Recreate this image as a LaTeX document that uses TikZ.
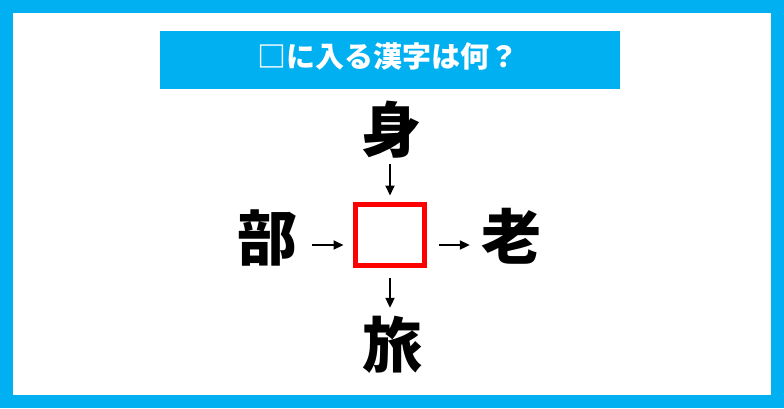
\documentclass[tikz,border=0pt]{standalone}
\usepackage{fontspec}
\newfontfamily\jp{Noto Sans CJK JP}
\usetikzlibrary{arrows.meta}
\definecolor{bannerblue}{HTML}{00B0F0}
\definecolor{boxred}{HTML}{FF0000}
\tikzset{
  kanji/.style={font=\jp\bfseries\fontsize{60}{60}\selectfont, inner sep=0pt, minimum width=60pt, minimum height=60pt},
  arr/.style={line width=2pt, -{Triangle[length=10pt,width=9pt]}},
  blank/.style={draw=boxred, line width=5pt, minimum width=69pt, minimum height=60.5pt, inner sep=0pt}
}
\begin{document}
\begin{tikzpicture}[x=1pt,y=-1pt]
\useasboundingbox (0,0) rectangle (784,408);
\fill[bannerblue] (0,0) rectangle (784,408);
\fill[white] (13,13) rectangle (771,395);
\fill[bannerblue] (160,31) rectangle (620,89);
\node[text=white, font=\jp\bfseries\fontsize{29}{29}\selectfont, inner sep=0pt] (title) at (388,56) {□に入る漢字は何？};
\node[blank] (box) at (390,234.75) {};
\node[kanji] (mi) at (391,130) {身};
\node[kanji] (bu) at (267,238) {部};
\node[kanji] (ro) at (511,236) {老};
\node[kanji] (ryo) at (392,345) {旅};
\coordinate (hy) at (0,245);
\draw[arr, shorten <=4pt, shorten >=6.5pt] (mi.south -| box.north) -- (box.north);
\draw[arr, shorten <=10pt, shorten >=7pt] (box.south) -- (box.south |- ryo.north);
\draw[arr, shorten <=15pt, shorten >=9.5pt] (bu.east |- hy) -- (box.west |- hy);
\draw[arr, shorten <=11.5pt, shorten >=11pt] (box.east |- hy) -- (ro.west |- hy);
\end{tikzpicture}
\end{document}
